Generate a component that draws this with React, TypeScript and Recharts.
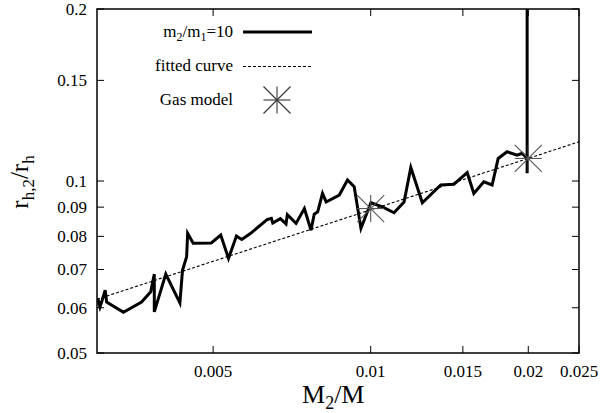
import React from 'react';
import { ComposedChart, Line, Scatter, XAxis, YAxis } from 'recharts';

// m2/m1 = 10 curve
const mainX = [
  0.00301, 0.00304, 0.00307, 0.00311, 0.00313, 0.00337, 0.00365, 0.0038, 0.00386, 0.00386,
  0.00406, 0.00432, 0.00437, 0.00445, 0.00447, 0.00458, 0.00496, 0.00517, 0.00535, 0.00554,
  0.00567, 0.00589, 0.00634, 0.00646, 0.0065, 0.00672, 0.00689, 0.00693, 0.0072, 0.00747,
  0.00769, 0.0078, 0.00792, 0.00809, 0.00822, 0.00871, 0.00903, 0.0093, 0.00958, 0.01001,
  0.01053, 0.01108, 0.01158, 0.01193, 0.01255, 0.01361, 0.01442, 0.01529, 0.01574, 0.01645,
  0.01706, 0.01752, 0.01822, 0.01904, 0.01946, 0.0199, 0.0199, 0.0199,
];
const mainY = [
  0.0623, 0.0602, 0.0619, 0.0644, 0.0614, 0.0589, 0.0614, 0.064, 0.0687, 0.059,
  0.0687, 0.0612, 0.0698, 0.0737, 0.081, 0.0778, 0.0779, 0.0804, 0.0732, 0.0801,
  0.079, 0.0809, 0.0856, 0.086, 0.0844, 0.0859, 0.0841, 0.0873, 0.0843, 0.0895,
  0.082, 0.0875, 0.0883, 0.0951, 0.0919, 0.0945, 0.1004, 0.0977, 0.0826, 0.0916,
  0.0901, 0.088, 0.0919, 0.1056, 0.0916, 0.0984, 0.0987, 0.1034, 0.0951, 0.0997,
  0.0984, 0.1095, 0.1125, 0.111, 0.1118, 0.1095, 0.1032, 0.2,
];

// fitted curve (straight on log-log axes)
const fitX = [0.003, 0.025];
const fitY = [0.0621, 0.1171];

// gas model points
const gasX = [0.01, 0.02];
const gasY = [0.0895, 0.1095];

const xTicks = [0.005, 0.01, 0.015, 0.02, 0.025];
const yTicks = [0.05, 0.06, 0.07, 0.08, 0.09, 0.1, 0.15, 0.2];

const mainData = mainX.map((x, i) => ({ x, y: mainY[i] }));
const fitData = fitX.map((x, i) => ({ x, y: fitY[i] }));
const gasData = gasX.map((x, i) => ({ x, y: gasY[i] }));

const FONT = '"Liberation Serif", "DejaVu Serif", serif';
const LEFT = 97;
const RIGHT = 579;
const TOP = 9;
const BOTTOM = 353;
const TICK = 7;

const Star = (props: any) => {
  const { cx, cy } = props;
  const r = 13.5;
  const color = props.color || '#555';
  return (
    <g stroke={color} strokeWidth={1.1}>
      <line x1={cx - r} y1={cy} x2={cx + r} y2={cy} />
      <line x1={cx} y1={cy - r} x2={cx} y2={cy + r} />
      <line x1={cx - r} y1={cy - r} x2={cx + r} y2={cy + r} />
      <line x1={cx - r} y1={cy + r} x2={cx + r} y2={cy - r} />
    </g>
  );
};

const XTick = (props: any) => {
  const { x, payload } = props;
  return (
    <g>
      <line x1={x} y1={BOTTOM} x2={x} y2={BOTTOM - TICK} stroke="#000" />
      <line x1={x} y1={TOP} x2={x} y2={TOP + TICK} stroke="#000" />
      <text x={x} y={377} textAnchor="middle" fontFamily={FONT} fontSize={17} fill="#000">
        {String(payload.value)}
      </text>
    </g>
  );
};

const YTick = (props: any) => {
  const { y, payload } = props;
  return (
    <g>
      <line x1={LEFT} y1={y} x2={LEFT + TICK} y2={y} stroke="#000" />
      <line x1={RIGHT} y1={y} x2={RIGHT - TICK} y2={y} stroke="#000" />
      <text x={87} y={y} dy="0.35em" textAnchor="end" fontFamily={FONT} fontSize={17} fill="#000">
        {String(payload.value)}
      </text>
    </g>
  );
};

const Overlay = () => (
  <svg
    width={602}
    height={413}
    style={{ position: 'absolute', left: 0, top: 0, pointerEvents: 'none' }}
    fontFamily={FONT}
  >
    <rect x={LEFT} y={TOP} width={RIGHT - LEFT} height={BOTTOM - TOP} fill="none" stroke="#000" strokeWidth={1.5} />

    {/* legend */}
    <text x={233} y={37} textAnchor="end" fontSize={17}>
      m<tspan fontSize={12} dy={4}>2</tspan>
      <tspan dy={-4}>/m</tspan>
      <tspan fontSize={12} dy={4}>1</tspan>
      <tspan dy={-4}>=10</tspan>
    </text>
    <line x1={243} y1={32} x2={312} y2={32} stroke="#000" strokeWidth={3} />
    <text x={233} y={71} textAnchor="end" fontSize={17}>fitted curve</text>
    <line x1={243} y1={66.5} x2={312} y2={66.5} stroke="#000" strokeWidth={1.1} strokeDasharray="3 2" />
    <text x={233} y={105} textAnchor="end" fontSize={17}>Gas model</text>
    <Star cx={277} cy={100} color="#333" />

    {/* axis titles */}
    <text x={302} y={403} fontSize={26}>
      M<tspan fontSize={18} dy={6}>2</tspan>
      <tspan dy={-6}>/M</tspan>
    </text>
    <text x={28} y={182} fontSize={25} textAnchor="middle" transform="rotate(-90 28 182)">
      r<tspan fontSize={17} dy={6}>h,2</tspan>
      <tspan dy={-6}>/r</tspan>
      <tspan fontSize={17} dy={6}>h</tspan>
    </text>
  </svg>
);

export default function App() {
  return (
    <div style={{ position: 'absolute', left: 0, top: 0, width: 602, height: 413, background: '#fff' }}>
      <ComposedChart width={602} height={413} margin={{ top: TOP, right: 602 - RIGHT, bottom: 0, left: 0 }}>
        <XAxis
          xAxisId={0}
          type="number"
          dataKey="x"
          scale="log"
          domain={[0.003, 0.025]}
          ticks={xTicks}
          interval={0}
          allowDataOverflow
          height={413 - BOTTOM}
          axisLine={false}
          tickLine={false}
          tick={<XTick />}
        />
        <YAxis
          yAxisId={0}
          type="number"
          dataKey="y"
          scale="log"
          domain={[0.05, 0.2]}
          ticks={yTicks}
          interval={0}
          allowDataOverflow
          width={LEFT}
          axisLine={false}
          tickLine={false}
          tick={<YTick />}
        />
        <Line
          data={mainData}
          dataKey="y"
          type="linear"
          stroke="#000"
          strokeWidth={3}
          dot={false}
          isAnimationActive={false}
        />
        <Line
          data={fitData}
          dataKey="y"
          type="linear"
          stroke="#000"
          strokeWidth={1.1}
          strokeDasharray="3 2"
          dot={false}
          isAnimationActive={false}
        />
        <Scatter data={gasData} dataKey="y" shape={<Star />} isAnimationActive={false} />
      </ComposedChart>
      <Overlay />
    </div>
  );
}
